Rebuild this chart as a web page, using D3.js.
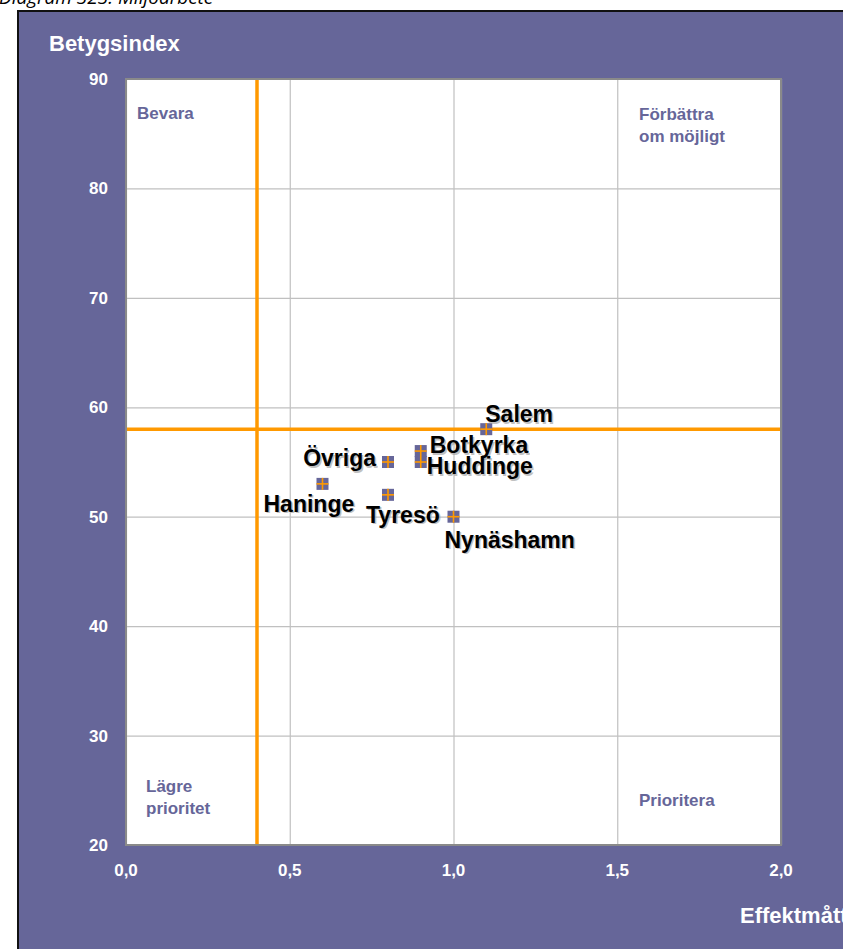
<!DOCTYPE html>
<html><head><meta charset="utf-8">
<script src="https://cdn.jsdelivr.net/npm/d3@7"></script>
<style>body{margin:0;background:#fff}svg{display:block}</style>
</head><body>
<svg id="c" width="843" height="949"></svg>
<script>
const categories = ["Salem","Botkyrka","Huddinge","Övriga","Haninge","Tyresö","Nynäshamn"];
const effektmatt = [1.1, 0.9, 0.9, 0.8, 0.6, 0.8, 1.0];
const betygsindex = [58, 56, 55, 55, 53, 52, 50];
const xTicks = [0, 0.5, 1.0, 1.5, 2.0];
const yTicks = [20, 30, 40, 50, 60, 70, 80, 90];
const refX = 0.4, refY = 58;
const quadrantLabels = [
  {lines:["Bevara"], x:0, y:90},
  {lines:["Förbättra","om möjligt"], x:2, y:90},
  {lines:["Lägre","prioritet"], x:0, y:20},
  {lines:["Prioritera"], x:2, y:20}
];
// label offsets (placement only)
const labelOffsets = {
  "Salem":[-1,-7,"start"], "Botkyrka":[9,2,"start"], "Huddinge":[6,12,"start"],
  "Övriga":[-12,4,"end"], "Haninge":[-59,28,"start"], "Tyresö":[-22,28,"start"],
  "Nynäshamn":[-9,31,"start"]
};

const svg = d3.select("#c");
const purple = "#666699", orange = "#FF9900";
const font = "'Liberation Sans', Arial, sans-serif";

svg.append("text").attr("x",-1).attr("y",4).attr("font-family","'Open Sans', sans-serif")
  .attr("font-style","italic").attr("font-size",19).attr("fill","#000").text("Diagram 323: Miljöarbete");

svg.append("rect").attr("x",18).attr("y",11).attr("width",900).attr("height",1000)
  .attr("fill",purple).attr("stroke","#111").attr("stroke-width",2);

const x = d3.scaleLinear().domain([0,2]).range([126,781]);
const y = d3.scaleLinear().domain([20,90]).range([845,79]);

const g = svg.append("g");
g.append("rect").attr("x",x(0)).attr("y",y(90)).attr("width",x(2)-x(0)).attr("height",y(20)-y(90))
  .attr("fill","#fff");

// grid
g.append("g").attr("transform",`translate(0,${y(20)})`)
  .call(d3.axisBottom(x).tickValues(xTicks).tickSize(-(y(20)-y(90))).tickFormat(""))
  .call(s=>{s.select(".domain").remove();s.selectAll("line").attr("stroke","#c0c0c0").attr("stroke-width",1.2);});
g.append("g").attr("transform",`translate(${x(0)},0)`)
  .call(d3.axisLeft(y).tickValues(yTicks).tickSize(-(x(2)-x(0))).tickFormat(""))
  .call(s=>{s.select(".domain").remove();s.selectAll("line").attr("stroke","#c0c0c0").attr("stroke-width",1.2);});

// tick labels
g.selectAll(".yt").data(yTicks).join("text").attr("x",108).attr("y",d=>y(d)+6)
  .attr("text-anchor","end").attr("font-family",font).attr("font-weight","bold").attr("font-size",17)
  .attr("fill","#fff").text(d=>d);
const fmt = d=>d3.format(".1f")(d).replace(".",",");
g.selectAll(".xt").data(xTicks).join("text").attr("x",d=>x(d)).attr("y",876)
  .attr("text-anchor","middle").attr("font-family",font).attr("font-weight","bold").attr("font-size",17)
  .attr("fill","#fff").text(fmt);

svg.append("text").attr("x",49).attr("y",51).attr("font-family",font).attr("font-weight","bold")
  .attr("font-size",22).attr("fill","#fff").text("Betygsindex");
svg.append("text").attr("x",740).attr("y",923).attr("font-family",font).attr("font-weight","bold")
  .attr("font-size",22).attr("fill","#fff").text("Effektmått");

// quadrant labels
const qpos = [[137,119],[639,120],[146,792],[639,806]];
quadrantLabels.forEach((q,i)=>{
  const t = g.append("text").attr("font-family",font).attr("font-weight","bold").attr("font-size",17)
    .attr("fill",purple);
  q.lines.forEach((l,j)=>t.append("tspan").attr("x",qpos[i][0]).attr("y",qpos[i][1]+j*22).text(l));
});

// reference lines
g.append("line").attr("x1",x(refX)).attr("x2",x(refX)).attr("y1",y(90)).attr("y2",y(20))
  .attr("stroke",orange).attr("stroke-width",3.5);
g.append("line").attr("x1",x(0)).attr("x2",x(2)).attr("y1",y(refY)).attr("y2",y(refY))
  .attr("stroke",orange).attr("stroke-width",3.5);

// frame
g.append("rect").attr("x",x(0)).attr("y",y(90)).attr("width",x(2)-x(0)).attr("height",y(20)-y(90))
  .attr("fill","none").attr("stroke","#8a8a8a").attr("stroke-width",2);

const data = categories.map((c,i)=>({name:c, x:effektmatt[i], y:betygsindex[i]}));

// markers
const m = g.selectAll(".pt").data(data).join("g").attr("transform",d=>`translate(${x(d.x)},${y(d.y)})`);
m.append("rect").attr("x",-6).attr("y",-6).attr("width",12).attr("height",12).attr("fill",purple);
m.append("line").attr("x1",-6).attr("x2",6).attr("stroke",orange).attr("stroke-width",1.6);
m.append("line").attr("y1",-6).attr("y2",6).attr("stroke",orange).attr("stroke-width",1.6);

// labels
const lab = g.selectAll(".lb").data(data).join("g");
lab.append("text").attr("x",d=>x(d.x)+labelOffsets[d.name][0]+1.5).attr("y",d=>y(d.y)+labelOffsets[d.name][1]+1.5)
  .attr("text-anchor",d=>labelOffsets[d.name][2]).attr("font-family",font).attr("font-weight","bold")
  .attr("font-size",23).attr("fill","#999").attr("opacity",0.6).text(d=>d.name);
lab.append("text").attr("x",d=>x(d.x)+labelOffsets[d.name][0]).attr("y",d=>y(d.y)+labelOffsets[d.name][1])
  .attr("text-anchor",d=>labelOffsets[d.name][2]).attr("font-family",font).attr("font-weight","bold")
  .attr("font-size",23).attr("fill","#000").text(d=>d.name);
</script>
</body></html>
